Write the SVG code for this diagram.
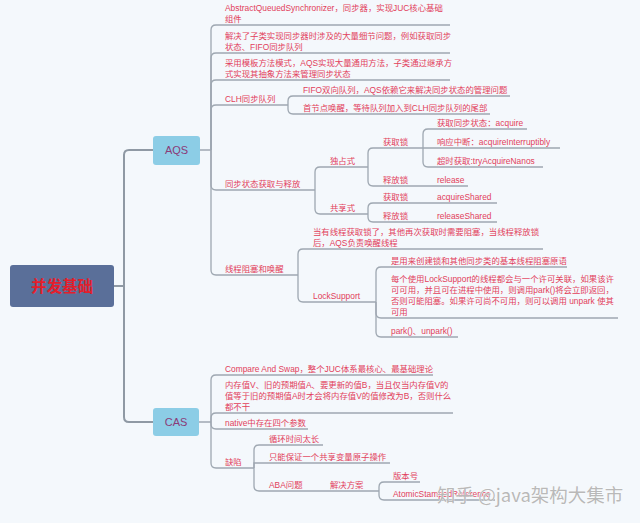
<svg xmlns="http://www.w3.org/2000/svg" width="640" height="523" viewBox="0 0 640 523">
<style>
.t{font-family:"Liberation Sans","Noto Sans CJK SC",sans-serif;font-size:8.4px;fill:#e2405b}
.ln{fill:none;stroke:#9ea7b1;stroke-width:1.3}
.main{fill:none;stroke:#8f99a4;stroke-width:2}
.box{fill:#8ccde6}
.bt{font-family:"Liberation Sans","Noto Sans CJK SC",sans-serif;font-size:11px;fill:#8b3b78;text-anchor:middle}
</style>
<rect width="640" height="523" fill="#f4f8fc"/>
<g id="connectors">
<path class="main" d="M114 286 H124 V155 Q124 150 129 150 H153 M124 286 V417 Q124 422 129 422 H153"/>
<path class="ln" d="M200 150 H211 M199 422 H211"/>
<!-- AQS children -->
<path class="ln" d="M211 150 V30 Q211 25 216 25 H450"/>
<path class="ln" d="M211 150 V58 Q211 53 216 53 H450"/>
<path class="ln" d="M211 150 V85 Q211 80 216 80 H450"/>
<path class="ln" d="M211 150 V110 Q211 105 216 105 H288"/>
<path class="ln" d="M211 150 V185 Q211 190 216 190 H315"/>
<path class="ln" d="M211 150 V270 Q211 275 216 275 H298"/>
<!-- CLH -->
<path class="ln" d="M288 105 V101 Q288 96 293 96 H510"/>
<path class="ln" d="M288 105 V109 Q288 114 293 114 H490"/>
<!-- 同步状态获取与释放 -->
<path class="ln" d="M315 190 V172 Q315 167 320 167 H368"/>
<path class="ln" d="M315 190 V209 Q315 214 320 214 H368"/>
<path class="ln" d="M368 167 V153 Q368 148 373 148 H423"/>
<path class="ln" d="M368 167 V181 Q368 186 373 186 H468"/>
<path class="ln" d="M423 148 V134 Q423 129 428 129 H527"/>
<path class="ln" d="M423 148 H560"/>
<path class="ln" d="M423 148 V162 Q423 167 428 167 H543"/>
<path class="ln" d="M368 214 V208 Q368 203 373 203 H497"/>
<path class="ln" d="M368 214 V217 Q368 222 373 222 H497"/>
<!-- 线程阻塞和唤醒 -->
<path class="ln" d="M298 275 V254 Q298 249 303 249 H543"/>
<path class="ln" d="M298 275 V297 Q298 302 303 302 H376"/>
<path class="ln" d="M376 302 V272 Q376 267 381 267 H567"/>
<path class="ln" d="M376 302 V313 Q376 318 381 318 H618"/>
<path class="ln" d="M376 302 V332 Q376 337 381 337 H458"/>
<!-- CAS children -->
<path class="ln" d="M211 422 V380 Q211 375 216 375 H433"/>
<path class="ln" d="M211 422 V418 Q211 413 216 413 H453"/>
<path class="ln" d="M211 422 V424 Q211 429 216 429 H308"/>
<path class="ln" d="M211 422 V463 Q211 468 216 468 H254"/>
<path class="ln" d="M254 468 V450 Q254 445 259 445 H323"/>
<path class="ln" d="M254 468 V463 Q254 463 259 463 H390"/>
<path class="ln" d="M254 468 V486 Q254 491 259 491 H379"/>
<path class="ln" d="M379 491 V487 Q379 482 384 482 H420"/>
<path class="ln" d="M379 491 V495 Q379 500 384 500 H495"/>
</g>
<g id="root">
<rect x="10" y="265" width="104" height="42" rx="3" fill="#5a6f99"/>
<text x="62" y="291.5" style="font-family:'Noto Sans CJK SC',sans-serif;font-size:15.5px;font-weight:bold;fill:#e41e2b" text-anchor="middle">并发基础</text>
</g>
<g id="aqs">
<rect class="box" x="153" y="136" width="47" height="29" rx="3"/>
<text class="bt" x="176.5" y="154">AQS</text>
</g>
<g id="cas">
<rect class="box" x="153" y="408" width="46" height="28" rx="3"/>
<text class="bt" x="176" y="426">CAS</text>
</g>
<g id="aqs-1"><text class="t" x="225" y="10.5">AbstractQueuedSynchronizer，同步器，实现JUC核心基础</text><text class="t" x="225" y="21.5">组件</text></g>
<g id="aqs-2"><text class="t" x="225" y="38.5">解决了子类实现同步器时涉及的大量细节问题，例如获取同步</text><text class="t" x="225" y="49.5">状态、FIFO同步队列</text></g>
<g id="aqs-3"><text class="t" x="225" y="65.5">采用模板方法模式，AQS实现大量通用方法，子类通过继承方</text><text class="t" x="225" y="76.5">式实现其抽象方法来管理同步状态</text></g>
<g id="clh"><text class="t" x="225" y="101.5">CLH同步队列</text></g>
<g id="clh-1"><text class="t" x="303" y="92.5">FIFO双向队列，AQS依赖它来解决同步状态的管理问题</text></g>
<g id="clh-2"><text class="t" x="303" y="110.5">首节点唤醒，等待队列加入到CLH同步队列的尾部</text></g>
<g id="sync"><text class="t" x="225" y="186.5">同步状态获取与释放</text></g>
<g id="excl"><text class="t" x="330" y="163.5">独占式</text></g>
<g id="excl-acq"><text class="t" x="383" y="144.5">获取锁</text></g>
<g id="acq-1"><text class="t" x="437" y="125.5">获取同步状态：acquire</text></g>
<g id="acq-2"><text class="t" x="437" y="144.5">响应中断：acquireInterruptibly</text></g>
<g id="acq-3"><text class="t" x="437" y="163.5">超时获取:tryAcquireNanos</text></g>
<g id="excl-rel"><text class="t" x="383" y="182.5">释放锁</text></g>
<g id="release"><text class="t" x="437" y="182.5">release</text></g>
<g id="shared"><text class="t" x="330" y="210.5">共享式</text></g>
<g id="shared-acq"><text class="t" x="383" y="199.5">获取锁</text></g>
<g id="acquireShared"><text class="t" x="437" y="199.5">acquireShared</text></g>
<g id="shared-rel"><text class="t" x="383" y="218.5">释放锁</text></g>
<g id="releaseShared"><text class="t" x="437" y="218.5">releaseShared</text></g>
<g id="block"><text class="t" x="225" y="271.5">线程阻塞和唤醒</text></g>
<g id="block-1"><text class="t" x="313" y="234.5">当有线程获取锁了，其他再次获取时需要阻塞，当线程释放锁</text><text class="t" x="313" y="245.5">后，AQS负责唤醒线程</text></g>
<g id="locksupport"><text class="t" x="313" y="298.5">LockSupport</text></g>
<g id="ls-1"><text class="t" x="391" y="263.5">是用来创建锁和其他同步类的基本线程阻塞原语</text></g>
<g id="ls-2"><text class="t" x="391" y="281.5">每个使用LockSupport的线程都会与一个许可关联，如果该许</text><text class="t" x="391" y="292.5">可可用，并且可在进程中使用，则调用park()将会立即返回，</text><text class="t" x="391" y="303.5">否则可能阻塞。如果许可尚不可用，则可以调用 unpark 使其</text><text class="t" x="391" y="314.5">可用</text></g>
<g id="ls-3"><text class="t" x="391" y="333.5">park()、unpark()</text></g>
<g id="cas-1"><text class="t" x="225" y="371.5">Compare And Swap，整个JUC体系最核心、最基础理论</text></g>
<g id="cas-2"><text class="t" x="225" y="387.5">内存值V、旧的预期值A、要更新的值B，当且仅当内存值V的</text><text class="t" x="225" y="398.5">值等于旧的预期值A时才会将内存值V的值修改为B，否则什么</text><text class="t" x="225" y="409.5">都不干</text></g>
<g id="cas-3"><text class="t" x="225" y="425.5">native中存在四个参数</text></g>
<g id="defect"><text class="t" x="225" y="464.5">缺陷</text></g>
<g id="defect-1"><text class="t" x="269" y="441.5">循环时间太长</text></g>
<g id="defect-2"><text class="t" x="269" y="459.5">只能保证一个共享变量原子操作</text></g>
<g id="aba"><text class="t" x="269" y="487.5">ABA问题</text></g>
<g id="solution"><text class="t" x="330" y="487.5">解决方案</text></g>
<g id="version"><text class="t" x="393" y="478.5">版本号</text></g>
<g id="stamped"><text class="t" x="393" y="496.5">AtomicStampedReference</text></g>
<text x="437" y="502" style="font-family:'Noto Sans CJK SC',sans-serif;font-size:18.5px;fill:#b9b9b9;stroke:#ffffff;stroke-width:0.6;paint-order:stroke" >知乎 @java架构大集市</text>
</svg>
